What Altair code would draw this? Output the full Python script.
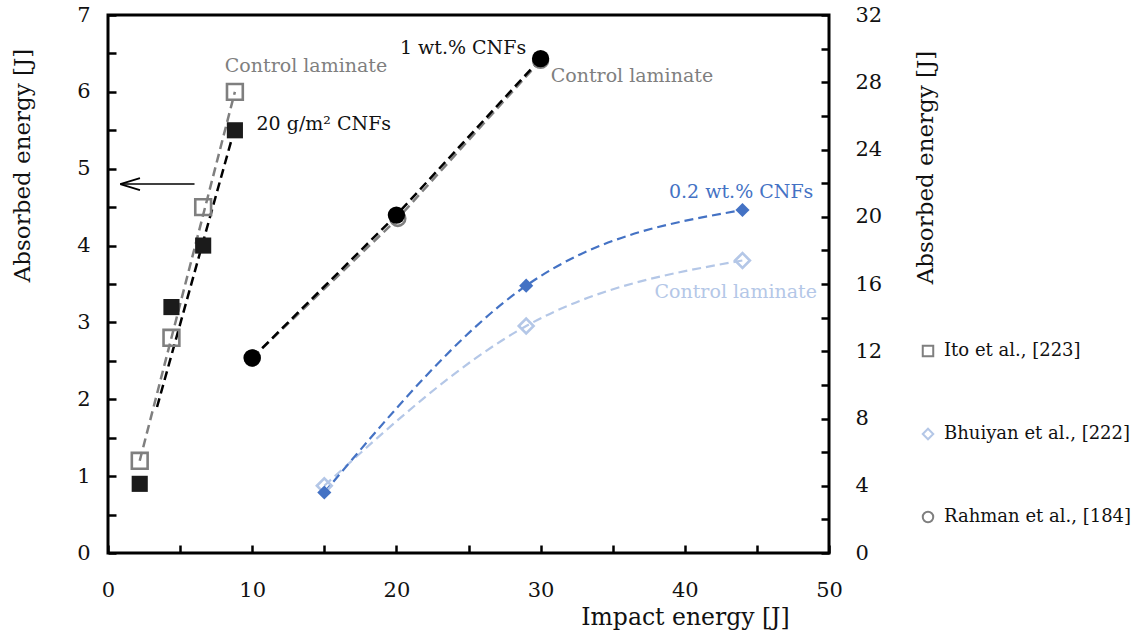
import altair as alt
import pandas as pd

# ---------------- data ----------------
ITO = "Ito et al., [223]"
BHU = "Bhuiyan et al., [222]"
RAH = "Rahman et al., [184]"

# Ito et al. (left axis, 0-7 J)
ito_x = [2.2, 4.4, 6.6, 8.8]
ito_control_y = [1.2, 2.8, 4.5, 6.0]
ito_cnf_y = [0.9, 3.2, 4.0, 5.5]
ito_control_fit_x = [2.2, 8.8]
ito_control_fit_y = [1.2, 6.0]
ito_cnf_fit_x = [3.4, 8.75]
ito_cnf_fit_y = [1.9, 5.5]

# Rahman et al. (right axis, 0-32 J)
rah_x = [10, 20, 30]
rah_cnf_y = [11.6, 20.1, 29.4]
rah_control_x = [10, 20.1, 30]
rah_control_y = [11.6, 19.9, 29.3]

# Bhuiyan et al. (right axis, 0-32 J)
bhu_x = [15, 29, 44]
bhu_cnf_y = [3.6, 15.9, 20.4]
bhu_control_y = [4.0, 13.5, 17.4]

# arrow pointing to the left axis
arrow_x = [0.85, 6.0]
arrow_y = [4.8, 4.8]

# annotations
ann_left_text = ["Control laminate", "20 g/m\u00b2 CNFs"]
ann_left_x = [8.1, 10.3]
ann_left_y = [6.34, 5.58]
ann_left_color = ["#7f7f7f", "#111111"]

ann_right_text = ["Control laminate", "0.2 wt.% CNFs", "Control laminate"]
ann_right_x = [30.7, 38.9, 37.9]
ann_right_y = [28.4, 21.5, 15.5]
ann_right_color = ["#7f7f7f", "#4472c4", "#b4c7e7"]

ann_rr_text = ["1 wt.% CNFs"]
ann_rr_x = [29.0]
ann_rr_y = [30.05]

x_label_values = [0, 10, 20, 30, 40, 50]
x_tick_values = [0, 5, 10, 15, 20, 25, 30, 35, 40, 45, 50]
yl_label_values = [0, 1, 2, 3, 4, 5, 6, 7]
yl_tick_values = [0, 0.5, 1, 1.5, 2, 2.5, 3, 3.5, 4, 4.5, 5, 5.5, 6, 6.5, 7]
yr_label_values = [0, 4, 8, 12, 16, 20, 24, 28, 32]
yr_tick_values = [0, 2, 4, 6, 8, 10, 12, 14, 16, 18, 20, 22, 24, 26, 28, 30, 32]

studies = [ITO, BHU, RAH]
shapes = ["square", "diamond", "circle"]
study_colors = ["#7f7f7f", "#b4c7e7", "#7f7f7f"]

# ---------------- layout constants ----------------
W, H = 721, 538
FONT = "DejaVu Serif"
GRAY = "#7f7f7f"
BLUE = "#4472c4"
LBLUE = "#b4c7e7"
DASH = [9, 5]

# ---------------- frames ----------------
ito_ctrl = pd.DataFrame({"x": ito_x, "y": ito_control_y, "study": ITO})
ito_cnf = pd.DataFrame({"x": ito_x, "y": ito_cnf_y})
ito_ctrl_fit = pd.DataFrame({"x": ito_control_fit_x, "y": ito_control_fit_y})
ito_cnf_fit = pd.DataFrame({"x": ito_cnf_fit_x, "y": ito_cnf_fit_y})

rah_cnf = pd.DataFrame({"x": rah_x, "y": rah_cnf_y})
rah_ctrl = pd.DataFrame({"x": rah_control_x, "y": rah_control_y, "study": RAH})
bhu_cnf = pd.DataFrame({"x": bhu_x, "y": bhu_cnf_y})
bhu_ctrl = pd.DataFrame({"x": bhu_x, "y": bhu_control_y, "study": BHU})
right_ctrl = pd.concat([bhu_ctrl, rah_ctrl], ignore_index=True)

arrow = pd.DataFrame({"x": arrow_x, "y": arrow_y})
arrow_head = arrow.iloc[[0]]

ann_left = pd.DataFrame({"x": ann_left_x, "y": ann_left_y, "t": ann_left_text, "c": ann_left_color})
ann_right = pd.DataFrame({"x": ann_right_x, "y": ann_right_y, "t": ann_right_text, "c": ann_right_color})
ann_rr = pd.DataFrame({"x": ann_rr_x, "y": ann_rr_y, "t": ann_rr_text})

# ---------------- encodings ----------------
def X(axis=None):
    return alt.X("x:Q", scale=alt.Scale(domain=[0, 50], nice=False, zero=False), axis=axis)

def YL(axis=None):
    return alt.Y("y:Q", scale=alt.Scale(domain=[0, 7], nice=False, zero=False), axis=axis)

def YR(axis=None):
    return alt.Y("y:Q", scale=alt.Scale(domain=[0, 32], nice=False, zero=False), axis=axis)

legend = alt.Legend(
    orient="none", legendX=811, legendY=327, title=None,
    labelFont=FONT, labelFontSize=18, labelColor="#111111", labelOffset=7, labelLimit=600,
    symbolSize=110, symbolStrokeWidth=2, rowPadding=63, padding=0,
)
shape_enc = alt.Shape("study:N", scale=alt.Scale(domain=studies, range=shapes), legend=legend)
stroke_enc = alt.Stroke("study:N", scale=alt.Scale(domain=studies, range=study_colors), legend=legend)

x_label_axis = alt.Axis(
    orient="bottom", values=x_label_values, ticks=False, tickSize=0, domain=False, grid=False,
    labelFont=FONT, labelFontSize=21, labelColor="#111111", labelPadding=37, labelBaseline="middle",
    labelFlush=False,
    title="Impact energy [J]", titleFont=FONT, titleFontSize=23.5, titleFontWeight="normal",
    titleColor="#111111", titleX=577, titleY=64, titleAlign="center", titleBaseline="middle",
)
x_tick_axis = alt.Axis(
    orient="top", offset=-H, values=x_tick_values, tickSize=8, tickWidth=2.5, tickColor="black",
    labels=False, domain=False, grid=False, title=None,
)
yl_label_axis = alt.Axis(
    orient="left", values=yl_label_values, ticks=False, tickSize=0, domain=False, grid=False,
    labelFont=FONT, labelFontSize=21, labelColor="#111111", labelPadding=18, labelFlush=False,
    title="Absorbed energy [J]", titleFont=FONT, titleFontSize=23, titleFontWeight="normal",
    titleColor="#111111", titleX=-86, titleY=150, titleAngle=270, titleAlign="center",
    titleBaseline="middle",
)
yl_tick_axis = alt.Axis(
    orient="right", offset=-W, values=yl_tick_values, tickSize=8, tickWidth=2.5, tickColor="black",
    labels=False, domain=False, grid=False, title=None,
)
yr_label_axis = alt.Axis(
    orient="right", values=yr_label_values, ticks=False, tickSize=0, domain=False, grid=False,
    labelFont=FONT, labelFontSize=21, labelColor="#111111", labelPadding=26, labelAlign="left",
    labelFlush=False,
    title="Absorbed energy [J]", titleFont=FONT, titleFontSize=23, titleFontWeight="normal",
    titleColor="#111111", titleX=96, titleY=152, titleAngle=270, titleAlign="center",
    titleBaseline="middle",
)
yr_tick_axis = alt.Axis(
    orient="left", offset=-W, values=yr_tick_values, tickSize=8, tickWidth=2.5, tickColor="black",
    labels=False, domain=False, grid=False, title=None,
)

# ---------------- left (Ito) layers ----------------
l_ctrl_fit = alt.Chart(ito_ctrl_fit).mark_line(
    color=GRAY, strokeWidth=2.5, strokeDash=DASH
).encode(x=X(), y=YL())
l_cnf_fit = alt.Chart(ito_cnf_fit).mark_line(
    color="black", strokeWidth=2.5, strokeDash=DASH
).encode(x=X(), y=YL())
l_ctrl = alt.Chart(ito_ctrl).mark_point(
    filled=False, size=250, strokeWidth=2.6, opacity=1
).encode(x=X(x_label_axis), y=YL(yl_label_axis), shape=shape_enc, stroke=stroke_enc)
l_cnf = alt.Chart(ito_cnf).mark_point(
    shape="square", filled=True, size=260, color="#1b1b1b", opacity=1
).encode(x=X(x_tick_axis), y=YL(yl_tick_axis))
l_arrow = alt.Chart(arrow).mark_line(color="black", strokeWidth=1.5).encode(x=X(), y=YL())
l_head = alt.Chart(arrow_head).mark_point(
    shape="M0,0 L1.8,-0.55 M0,0 L1.8,0.55", size=480, filled=False, stroke="black",
    strokeWidth=1.8, opacity=1
).encode(x=X(), y=YL())
l_text = alt.Chart(ann_left).mark_text(
    align="left", baseline="middle", font=FONT, fontSize=19
).encode(x=X(), y=YL(), text="t:N", color=alt.Color("c:N", scale=None))

# ---------------- right (Rahman, Bhuiyan) layers ----------------
r_bhu_ctrl_line = alt.Chart(bhu_ctrl).mark_line(
    color=LBLUE, strokeWidth=2.2, strokeDash=DASH, interpolate="monotone"
).encode(x=X(), y=YR())
r_bhu_cnf_line = alt.Chart(bhu_cnf).mark_line(
    color=BLUE, strokeWidth=2.2, strokeDash=DASH, interpolate="monotone"
).encode(x=X(), y=YR())
r_rah_ctrl_line = alt.Chart(rah_ctrl).mark_line(
    color=GRAY, strokeWidth=2.5, strokeDash=DASH
).encode(x=X(), y=YR())
r_rah_cnf_line = alt.Chart(rah_cnf).mark_line(
    color="black", strokeWidth=2.5, strokeDash=DASH
).encode(x=X(), y=YR())
r_ctrl = alt.Chart(right_ctrl).mark_point(
    filled=False, size=220, strokeWidth=2.6, opacity=1
).encode(x=X(), y=YR(yr_label_axis), shape=shape_enc, stroke=stroke_enc)
r_bhu_cnf = alt.Chart(bhu_cnf).mark_point(
    shape="diamond", filled=True, size=200, color=BLUE, opacity=1
).encode(x=X(), y=YR(yr_tick_axis))
r_rah_cnf = alt.Chart(rah_cnf).mark_point(
    shape="circle", filled=True, size=300, color="black", opacity=1
).encode(x=X(), y=YR())
r_text = alt.Chart(ann_right).mark_text(
    align="left", baseline="middle", font=FONT, fontSize=19
).encode(x=X(), y=YR(), text="t:N", color=alt.Color("c:N", scale=None))
r_text_r = alt.Chart(ann_rr).mark_text(
    align="right", baseline="middle", font=FONT, fontSize=19, color="#111111"
).encode(x=X(), y=YR(), text="t:N")

chart = alt.layer(
    l_ctrl_fit, l_cnf_fit, l_ctrl, l_cnf, l_arrow, l_head, l_text,
    r_bhu_ctrl_line, r_bhu_cnf_line, r_rah_ctrl_line, r_rah_cnf_line,
    r_ctrl, r_bhu_cnf, r_rah_cnf, r_text, r_text_r,
).resolve_scale(
    x="independent", y="independent"
).properties(
    width=W, height=H,
    autosize=alt.AutoSizeParams(type="none"),
    padding={"left": 108, "top": 15, "right": 310, "bottom": 84},
    background="white",
).configure_view(
    stroke="black", strokeWidth=3
)

chart.save("out.html", embed_options={"renderer": "svg", "actions": False})
